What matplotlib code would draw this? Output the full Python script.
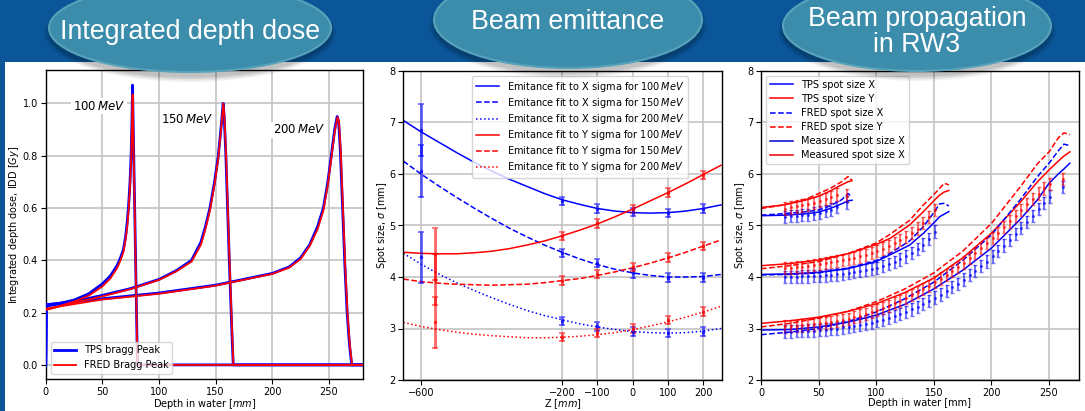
import matplotlib
matplotlib.use("Agg")
import matplotlib.pyplot as plt
from matplotlib.patches import Ellipse, Rectangle

# ---------------- data: integrated depth dose ----------------
tps100_d = [0, 0.5, 12, 25, 38, 50, 57, 63, 66, 68.5, 70.5, 72, 73.3, 74.4, 75.5, 76.1, 76.6, 80.6, 81, 280]
tps100_v = [0.0, 0.23, 0.235, 0.248, 0.272, 0.31, 0.34, 0.38, 0.41, 0.44, 0.49, 0.55, 0.62, 0.70, 0.82, 0.93, 1.07, 0.09, 0.0, 0.0]
fred100_d = [0, 12, 25, 38, 50, 57, 63, 66, 68.5, 70.5, 72, 73.3, 74.4, 75.5, 76.1, 76.7, 80.6, 81, 280]
fred100_v = [0.21, 0.225, 0.242, 0.265, 0.3, 0.33, 0.37, 0.40, 0.43, 0.48, 0.53, 0.60, 0.68, 0.8, 0.91, 1.035, 0.09, 0.0, 0.0]

tps150_d = [0, 0.5, 25, 50, 75, 100, 115, 128.7, 137, 141, 144.9, 149, 152.3, 155, 156.6,
            157.5, 159, 160.5, 162, 163.5, 164.8, 165.5, 280]
tps150_v = [0.0, 0.225, 0.242, 0.266, 0.292, 0.327, 0.36, 0.40, 0.47, 0.53, 0.6, 0.7, 0.8, 0.92, 1.0,
            0.95, 0.8, 0.6, 0.4, 0.22, 0.07, 0.0, 0.0]
fred150_d = [0, 25, 50, 75, 100, 115, 128.7, 137, 141, 144.9, 149, 152.3, 155, 156.8,
             157.7, 159.2, 160.7, 162.2, 163.7, 165, 165.7, 280]
fred150_v = [0.21, 0.238, 0.262, 0.29, 0.325, 0.357, 0.395, 0.46, 0.52, 0.59, 0.69, 0.79, 0.915, 1.0,
             0.95, 0.8, 0.6, 0.4, 0.22, 0.07, 0.0, 0.0]

tps200_d = [0, 0.5, 50, 100, 150, 200, 215, 225, 233, 240, 245, 249, 252, 255, 257.2,
            258.5, 260, 262, 264, 266, 268, 270, 280]
tps200_v = [0.0, 0.23, 0.253, 0.275, 0.305, 0.35, 0.375, 0.41, 0.46, 0.53, 0.6, 0.7, 0.8, 0.9, 0.95,
            0.93, 0.82, 0.6, 0.38, 0.2, 0.08, 0.0, 0.0]
fred200_d = [0, 50, 100, 150, 200, 215, 225, 233, 240, 245, 249, 252, 255, 257.5,
             258.8, 260.3, 262.3, 264.3, 266.3, 268.3, 270.3, 280]
fred200_v = [0.215, 0.25, 0.272, 0.303, 0.348, 0.372, 0.405, 0.455, 0.52, 0.59, 0.69, 0.79, 0.89, 0.948,
             0.93, 0.82, 0.6, 0.38, 0.2, 0.08, 0.0, 0.0]

# ---------------- data: beam emittance ----------------
z_fit = [-650, -600, -550, -500, -450, -400, -350, -300, -250, -200,
         -150, -100, -50, 0, 50, 100, 150, 200, 250]
fit_x100 = [7.04, 6.82, 6.62, 6.42, 6.23, 6.06, 5.90, 5.76, 5.62, 5.50,
            5.41, 5.33, 5.28, 5.25, 5.24, 5.25, 5.28, 5.33, 5.40]
fit_x150 = [6.25, 6.00, 5.77, 5.55, 5.34, 5.14, 4.95, 4.78, 4.62, 4.48,
            4.35, 4.24, 4.15, 4.08, 4.03, 4.00, 4.00, 4.01, 4.05]
fit_x200 = [4.46, 4.25, 4.06, 3.89, 3.74, 3.60, 3.47, 3.35, 3.25, 3.17,
            3.09, 3.03, 2.98, 2.94, 2.92, 2.91, 2.92, 2.95, 3.00]
fit_y100 = [4.48, 4.46, 4.45, 4.45, 4.47, 4.50, 4.55, 4.62, 4.70, 4.80,
            4.91, 5.03, 5.17, 5.32, 5.48, 5.64, 5.81, 5.99, 6.17]
fit_y150 = [3.96, 3.91, 3.88, 3.86, 3.85, 3.84, 3.85, 3.86, 3.89, 3.93,
            3.97, 4.03, 4.10, 4.18, 4.27, 4.37, 4.48, 4.60, 4.72]
fit_y200 = [3.12, 3.04, 2.98, 2.93, 2.89, 2.86, 2.84, 2.82, 2.82, 2.83,
            2.85, 2.88, 2.92, 2.98, 3.05, 3.13, 3.22, 3.32, 3.43]

z_meas_x = [-600, -200, -100, 0, 100, 200]
z_meas_y = [-560, -200, -100, 0, 100, 200]
meas_err = [0.5, 0.08, 0.08, 0.08, 0.08, 0.08]
meas_x100 = [6.85, 5.48, 5.33, 5.26, 5.25, 5.33]
meas_x150 = [6.06, 4.46, 4.27, 4.07, 3.99, 3.99]
meas_x200 = [4.38, 3.15, 3.04, 2.94, 2.91, 2.94]
meas_y100 = [4.45, 4.80, 5.04, 5.32, 5.64, 5.98]
meas_y150 = [3.95, 3.93, 4.06, 4.19, 4.38, 4.60]
meas_y200 = [3.12, 2.83, 2.91, 3.00, 3.17, 3.33]

# ---------------- data: beam propagation in RW3 ----------------
p100_d = [0, 20, 40, 50, 60, 70, 75.5, 79]
tps100_x = [5.19, 5.20, 5.23, 5.26, 5.33, 5.42, 5.48, 5.49]
tps100_y = [5.35, 5.40, 5.50, 5.57, 5.67, 5.79, 5.85, 5.87]
fred100_x = [5.20, 5.23, 5.27, 5.30, 5.38, 5.50, 5.62, 5.56]
fred100_y = [5.33, 5.40, 5.52, 5.62, 5.72, 5.85, 5.95, 5.88]

p150_d = [0, 25, 50, 75, 100, 112, 129, 141, 150, 155, 159, 163]
tps150_x = [4.05, 4.06, 4.09, 4.16, 4.30, 4.43, 4.62, 4.85, 5.05, 5.17, 5.22, 5.27]
tps150_y = [4.22, 4.26, 4.33, 4.45, 4.63, 4.75, 5.01, 5.27, 5.48, 5.59, 5.65, 5.68]
fred150_x = [4.04, 4.05, 4.08, 4.17, 4.32, 4.46, 4.70, 4.98, 5.25, 5.42, 5.43, 5.38]
fred150_y = [4.16, 4.22, 4.30, 4.45, 4.66, 4.83, 5.10, 5.40, 5.60, 5.72, 5.82, 5.79]

p200_d = [0, 25, 50, 75, 100, 125, 150, 175, 200, 225, 240, 250, 258, 263, 268]
tps200_x = [2.97, 2.98, 3.03, 3.12, 3.26, 3.47, 3.77, 4.13, 4.56, 5.12, 5.50, 5.82, 6.00, 6.10, 6.21]
tps200_y = [3.10, 3.15, 3.22, 3.33, 3.48, 3.70, 3.98, 4.37, 4.85, 5.45, 5.85, 6.08, 6.25, 6.35, 6.43]
fred200_x = [2.88, 2.93, 3.00, 3.13, 3.32, 3.58, 3.90, 4.32, 4.82, 5.50, 5.95, 6.21, 6.45, 6.58, 6.55]
fred200_y = [3.03, 3.10, 3.20, 3.33, 3.52, 3.77, 4.08, 4.50, 5.04, 5.75, 6.20, 6.43, 6.70, 6.80, 6.76]

m100_d = [21, 26, 31, 36, 41, 46, 51, 56, 61, 66, 75]
m100_x = [5.17, 5.18, 5.19, 5.20, 5.21, 5.23, 5.25, 5.28, 5.31, 5.36, 5.45]
m100_y = [5.33, 5.35, 5.37, 5.39, 5.41, 5.44, 5.47, 5.51, 5.55, 5.60, 5.58]

m150_d = [21, 26, 31, 36, 41, 46, 51, 56, 61, 66, 71, 76, 81, 86, 91, 96,
          101, 106, 111, 116, 121, 126, 131, 136, 141, 146, 151]
m150_x = [4.00, 4.00, 4.00, 4.01, 4.01, 4.02, 4.02, 4.03, 4.04, 4.05, 4.06, 4.08, 4.10, 4.12, 4.14, 4.16,
          4.18, 4.21, 4.25, 4.29, 4.34, 4.40, 4.46, 4.54, 4.63, 4.74, 4.88]
m150_y = [4.17, 4.18, 4.19, 4.20, 4.21, 4.23, 4.25, 4.27, 4.29, 4.31, 4.33, 4.35, 4.37, 4.40, 4.43, 4.46,
          4.50, 4.55, 4.60, 4.66, 4.72, 4.78, 4.86, 4.94, 5.05, 5.17, 5.30]

m200_d = [21, 26, 31, 36, 41, 46, 51, 56, 61, 66, 71, 76, 81, 86, 91, 96,
          101, 106, 111, 116, 121, 126, 131, 136, 141, 146, 151, 156, 161, 166, 171, 176,
          181, 186, 191, 196, 201, 206, 211, 216, 221, 226, 231, 236, 241, 246, 251, 262]
m200_x = [2.94, 2.94, 2.95, 2.95, 2.96, 2.96, 2.97, 2.98, 2.99, 3.00, 3.02, 3.03, 3.05, 3.07, 3.09, 3.11,
          3.14, 3.17, 3.20, 3.24, 3.28, 3.32, 3.37, 3.42, 3.48, 3.54, 3.60, 3.66, 3.73, 3.80, 3.87, 3.95,
          4.04, 4.12, 4.21, 4.30, 4.40, 4.50, 4.61, 4.72, 4.83, 4.95, 5.07, 5.19, 5.32, 5.44, 5.56, 5.75]
m200_y = [3.04, 3.05, 3.05, 3.06, 3.07, 3.08, 3.10, 3.11, 3.13, 3.15, 3.17, 3.19, 3.22, 3.25, 3.28, 3.32,
          3.36, 3.40, 3.44, 3.49, 3.54, 3.59, 3.65, 3.71, 3.77, 3.83, 3.90, 3.97, 4.04, 4.12, 4.20, 4.28,
          4.37, 4.46, 4.56, 4.66, 4.76, 4.86, 4.97, 5.08, 5.19, 5.30, 5.41, 5.52, 5.62, 5.72, 5.80, 5.90]
prop_err = 0.12

W, H = 1085, 411
FS = 7
plt.rcParams['font.family'] = ['DejaVu Sans']
plt.rcParams['font.size'] = FS
plt.rcParams['mathtext.fontset'] = 'dejavusans'

fig = plt.figure(figsize=(W / 100, H / 100), dpi=100, facecolor='#0a5698')

# white content area
fig.add_artist(Rectangle((5 / W, 0), 1 - 5 / W, (H - 62) / H, transform=fig.transFigure,
                         facecolor='white', edgecolor='none', zorder=-5))


def px_axes(left, top, right, bottom):
    return fig.add_axes([left / W, 1 - bottom / H, (right - left) / W, (bottom - top) / H])


def style(ax):
    ax.grid(True, color='#c4c4c4', lw=1.2)
    ax.set_axisbelow(True)
    ax.tick_params(labelsize=FS, length=3.5, pad=2)
    for s in ax.spines.values():
        s.set_linewidth(1.0)


# ---- panel 1 ----
ax1 = px_axes(45.7, 70.5, 363, 379)
style(ax1)
ax1.plot(tps100_d, tps100_v, color='blue', lw=2.0, label='TPS bragg Peak', zorder=3)
ax1.plot(fred100_d, fred100_v, color='red', lw=1.3, label='FRED Bragg Peak', zorder=3.1)
ax1.plot(tps150_d, tps150_v, color='blue', lw=2.0, zorder=3)
ax1.plot(fred150_d, fred150_v, color='red', lw=1.3, zorder=3.1)
ax1.plot(tps200_d, tps200_v, color='blue', lw=2.0, zorder=3)
ax1.plot(fred200_d, fred200_v, color='red', lw=1.3, zorder=3.1)
ax1.set_xlim(0, 280)
ax1.set_ylim(-0.054, 1.126)
ax1.set_xticks([0, 50, 100, 150, 200, 250])
ax1.set_yticks([0.0, 0.2, 0.4, 0.6, 0.8, 1.0])
for x, y, s in ((24, 0.99, r'100$\,MeV$'), (102, 0.94, r'150$\,MeV$'), (200.5, 0.90, r'200$\,MeV$')):
    ax1.text(x, y, s, fontsize=8.5, va='center', zorder=2.5,
             bbox=dict(facecolor='white', edgecolor='none', pad=1))
ax1.set_xlabel('Depth in water [$mm$]', fontsize=FS, labelpad=0)
ax1.set_ylabel('Integrated depth dose, IDD [$Gy$]', fontsize=FS, labelpad=1)
ax1.legend(loc='lower left', fontsize=FS, handlelength=2.2)

# ---- panel 2 ----
ax2 = px_axes(403.3, 71, 721.7, 380)
style(ax2)
ax2.plot(z_fit, fit_x100, color='blue', lw=1.1, ls='-', label=r'Emitance fit to X sigma for 100$\,MeV$')
ax2.plot(z_fit, fit_x150, color='blue', lw=1.1, ls='--', label=r'Emitance fit to X sigma for 150$\,MeV$')
ax2.plot(z_fit, fit_x200, color='blue', lw=1.1, ls=':', label=r'Emitance fit to X sigma for 200$\,MeV$')
ax2.plot(z_fit, fit_y100, color='red', lw=1.1, ls='-', label=r'Emitance fit to Y sigma for 100$\,MeV$')
ax2.plot(z_fit, fit_y150, color='red', lw=1.1, ls='--', label=r'Emitance fit to Y sigma for 150$\,MeV$')
ax2.plot(z_fit, fit_y200, color='red', lw=1.1, ls=':', label=r'Emitance fit to Y sigma for 200$\,MeV$')
for vals in (meas_x100, meas_x150, meas_x200):
    ax2.errorbar(z_meas_x, vals, yerr=meas_err, fmt='.', color='blue', ms=3,
                 elinewidth=2, capsize=2.5, capthick=1.2, alpha=0.6)
for vals in (meas_y100, meas_y150, meas_y200):
    ax2.errorbar(z_meas_y, vals, yerr=meas_err, fmt='.', color='red', ms=3,
                 elinewidth=2, capsize=2.5, capthick=1.2, alpha=0.6)
ax2.set_xlim(-650, 252)
ax2.set_ylim(2, 8)
ax2.set_xticks([-600, -200, -100, 0, 100, 200])
ax2.set_xlabel('Z [$mm$]', fontsize=FS, labelpad=0)
ax2.set_ylabel(r'Spot size, $\sigma$ [mm]', fontsize=FS, labelpad=0)
ax2.legend(loc='upper right', bbox_to_anchor=(0.91, 1.0), fontsize=FS, handlelength=2.4,
           labelspacing=0.22)

# ---- panel 3 ----
ax3 = px_axes(761, 71, 1079, 380)
style(ax3)
ax3.plot(p100_d, tps100_x, color='blue', lw=1.1, label='TPS spot size X')
ax3.plot(p100_d, tps100_y, color='red', lw=1.1, label='TPS spot size Y')
ax3.plot(p100_d, fred100_x, color='blue', lw=1.1, ls='--', label='FRED spot size X')
ax3.plot(p100_d, fred100_y, color='red', lw=1.1, ls='--', label='FRED spot size Y')
ax3.plot(p150_d, tps150_x, color='blue', lw=1.1)
ax3.plot(p150_d, tps150_y, color='red', lw=1.1)
ax3.plot(p150_d, fred150_x, color='blue', lw=1.1, ls='--')
ax3.plot(p150_d, fred150_y, color='red', lw=1.1, ls='--')
ax3.plot(p200_d, tps200_x, color='blue', lw=1.1)
ax3.plot(p200_d, tps200_y, color='red', lw=1.1)
ax3.plot(p200_d, fred200_x, color='blue', lw=1.1, ls='--')
ax3.plot(p200_d, fred200_y, color='red', lw=1.1, ls='--')
for dd, vx, vy in ((m100_d, m100_x, m100_y), (m150_d, m150_x, m150_y), (m200_d, m200_x, m200_y)):
    ax3.errorbar(dd, vx, yerr=prop_err, fmt='.', color='blue', ms=2.5,
                 elinewidth=1.5, capsize=1.5, capthick=1, alpha=0.55)
    ax3.errorbar(dd, vy, yerr=prop_err, fmt='.', color='red', ms=2.5,
                 elinewidth=1.5, capsize=1.5, capthick=1, alpha=0.55)
ax3.plot([], [], color='#0000cc', lw=1.1, label='Measured spot size X')
ax3.plot([], [], color='#ee0000', lw=1.1, label='Measured spot size X')
ax3.set_xlim(0, 276)
ax3.set_ylim(2, 8)
ax3.set_xticks([0, 50, 100, 150, 200, 250])
ax3.set_xlabel('Depth in water [mm]', fontsize=FS, labelpad=0)
ax3.set_ylabel(r'Spot size, $\sigma$ [mm]', fontsize=FS, labelpad=0)
ax3.legend(loc='upper left', fontsize=FS, handlelength=2.4, labelspacing=0.42)

# ---- title bubbles ----
bubbles = [
    (190, 28, 282, 88, 'Integrated depth dose', 32),
    (568, 20, 268, 96, 'Beam emittance', 22),
    (917, 26, 268, 90, 'Beam propagation\nin RW3', 32),
]
for cx, cy, bw, bh, label, ty in bubbles:
    for k, a in enumerate([0.05, 0.06, 0.07, 0.08]):
        fig.add_artist(Ellipse((cx / W, 1 - (cy + 5) / H), (bw + 10 - 3 * k) / W, (bh + 10 - 3 * k) / H,
                               transform=fig.transFigure, facecolor='black', edgecolor='none',
                               alpha=a, zorder=8))
    fig.add_artist(Ellipse((cx / W, 1 - cy / H), bw / W, bh / H, transform=fig.transFigure,
                           facecolor='#3b8dab', edgecolor='#58a2ba', lw=1.5, zorder=9))
    fig.text(cx / W, 1 - ty / H, label, ha='center', va='center', color='white',
             fontsize=19.3, family=['Liberation Sans', 'DejaVu Sans'], linespacing=1.05, zorder=10)

fig.savefig('out.png', dpi=100, facecolor=fig.get_facecolor())
